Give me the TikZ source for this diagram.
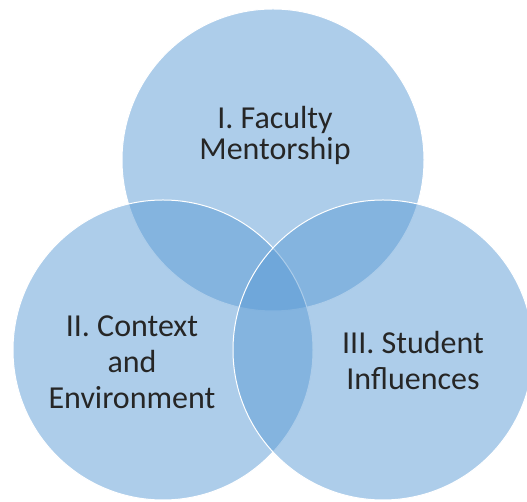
\documentclass[tikz,border=0pt]{standalone}
\usepackage{fontspec}
\setmainfont{Carlito}
\definecolor{vennblue}{HTML}{5B9BD5}
\begin{document}
\begin{tikzpicture}[
    x=1pt, y=1pt,
    venn/.style={
        circle, draw=white, line width=1pt,
        fill=vennblue, fill opacity=0.5,
        minimum size=300pt, inner sep=0pt
    },
    vennlabel/.style={
        align=center, text=black!85,
        font=\fontsize{32}{36}\selectfont
    }
]
\useasboundingbox (0,0) rectangle (527,502);

% Circles
\node[venn, minimum size=302pt] (faculty) at (273,342) {};
\node[venn] (context) at (163,152) {};
\node[venn] (student) at (383,152) {};

% Labels
\node[vennlabel, font=\fontsize{32}{31}\selectfont] (facultylbl) at (275,367) {I. Faculty\\Mentorship};
\node[vennlabel] (contextlbl) at (132,140) {II. Context\\and\\Environment};
\node[vennlabel] (studentlbl) at (413,141) {III. Student\\Influences};

\end{tikzpicture}
\end{document}
